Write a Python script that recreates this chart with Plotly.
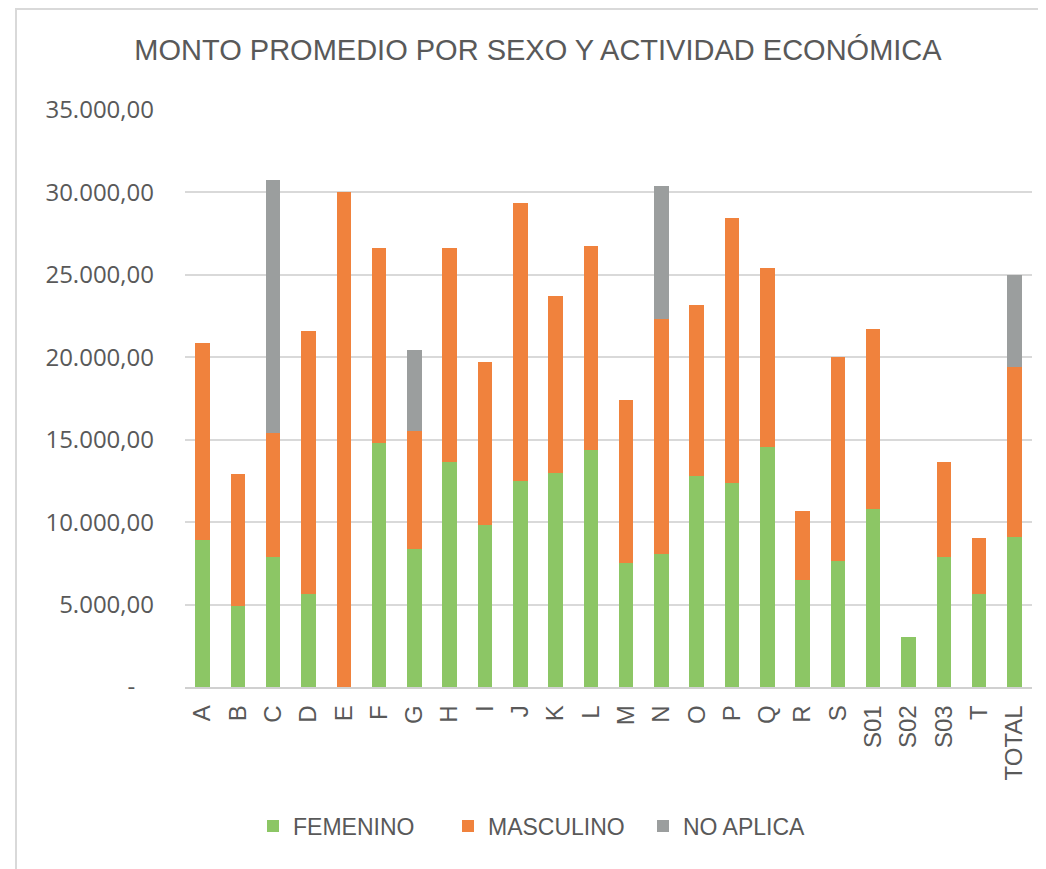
import plotly.graph_objects as go

categories = ["A", "B", "C", "D", "E", "F", "G", "H", "I", "J", "K", "L", "M", "N",
              "O", "P", "Q", "R", "S", "S01", "S02", "S03", "T", "TOTAL"]
femenino = [8920, 4920, 7910, 5650, 0, 14820, 8350, 13670, 9820, 12520, 12960, 14400,
            7520, 8080, 12810, 12390, 14550, 6490, 7660, 10800, 3040, 7910, 5630, 9070]
masculino = [11930, 8020, 7480, 15930, 30040, 11790, 7180, 12940, 9880, 16810, 10760, 12350,
             9900, 14220, 10340, 16080, 10890, 4190, 12330, 10910, 0, 5760, 3430, 10360]
no_aplica = [0, 0, 15390, 0, 0, 0, 4900, 0, 0, 0, 0, 0,
             0, 8060, 0, 0, 0, 0, 0, 0, 0, 0, 0, 5590]
series_names = ["FEMENINO", "MASCULINO", "NO APLICA"]
colors = ["#8cc665", "#f0823d", "#9b9e9e"]
y_tickvals = [0, 5000, 10000, 15000, 20000, 25000, 30000, 35000]
y_ticktext = ["-\u00a0\u00a0\u00a0", "5.000,00", "10.000,00", "15.000,00", "20.000,00",
              "25.000,00", "30.000,00", "35.000,00"]

fig = go.Figure()
for name, vals, col in zip(series_names, [femenino, masculino, no_aplica], colors):
    fig.add_trace(go.Bar(x=categories, y=vals, name=name, marker_color=col,
                         marker_line_width=0))

W, H = 1046, 869
L, R, T, B = 177, 22, 102, 190
fig.update_layout(
    width=W, height=H,
    barmode="stack", bargap=0.59,
    plot_bgcolor="white", paper_bgcolor="white",
    margin=dict(l=L, r=R, t=T, b=B, autoexpand=False),
    font=dict(family="Liberation Sans, Arial, sans-serif", color="#595959"),
    title=dict(text="MONTO PROMEDIO POR SEXO Y ACTIVIDAD ECONÓMICA",
               font=dict(family="Liberation Sans, Arial, sans-serif", size=29, color="#595959"),
               x=530 / W, xanchor="center", xref="container",
               y=1 - 42 / H, yanchor="middle", yref="container"),
    showlegend=True,
    legend=dict(orientation="h", x=(537.5 - L) / (W - L - R), xanchor="center",
                y=(679 - 818) / 577, yanchor="middle",
                font=dict(size=23, color="#595959"),
                itemwidth=30, traceorder="normal",
                entrywidth=150, entrywidthmode="pixels"),
)
fig.update_yaxes(range=[0, 35000], tickvals=y_tickvals, ticktext=y_ticktext,
                 showgrid=True, gridcolor="#d9d9d9", gridwidth=1.5,
                 zeroline=False, showline=False, ticks="",
                 tickfont=dict(family="Open Sans, sans-serif", size=24, color="#595959"),
                 ticklabelstandoff=30)
fig.update_xaxes(tickangle=-90, showline=True, linecolor="#d0d0d0", linewidth=1.5,
                 ticks="", tickfont=dict(size=24, color="#595959"),
                 ticklabelstandoff=7)


def px_x(p):
    return (p - L) / (W - L - R)


def px_y(p):
    return (H - B - p) / (H - T - B)


# chart border (left and top)
fig.add_shape(type="line", xref="paper", yref="paper", x0=px_x(8), x1=px_x(8),
              y0=px_y(0), y1=px_y(869), line=dict(color="#d9d9d9", width=2))
fig.add_shape(type="line", xref="paper", yref="paper", x0=px_x(8), x1=px_x(1046),
              y0=px_y(1), y1=px_y(1), line=dict(color="#d9d9d9", width=2))

fig.write_html("out.html")
